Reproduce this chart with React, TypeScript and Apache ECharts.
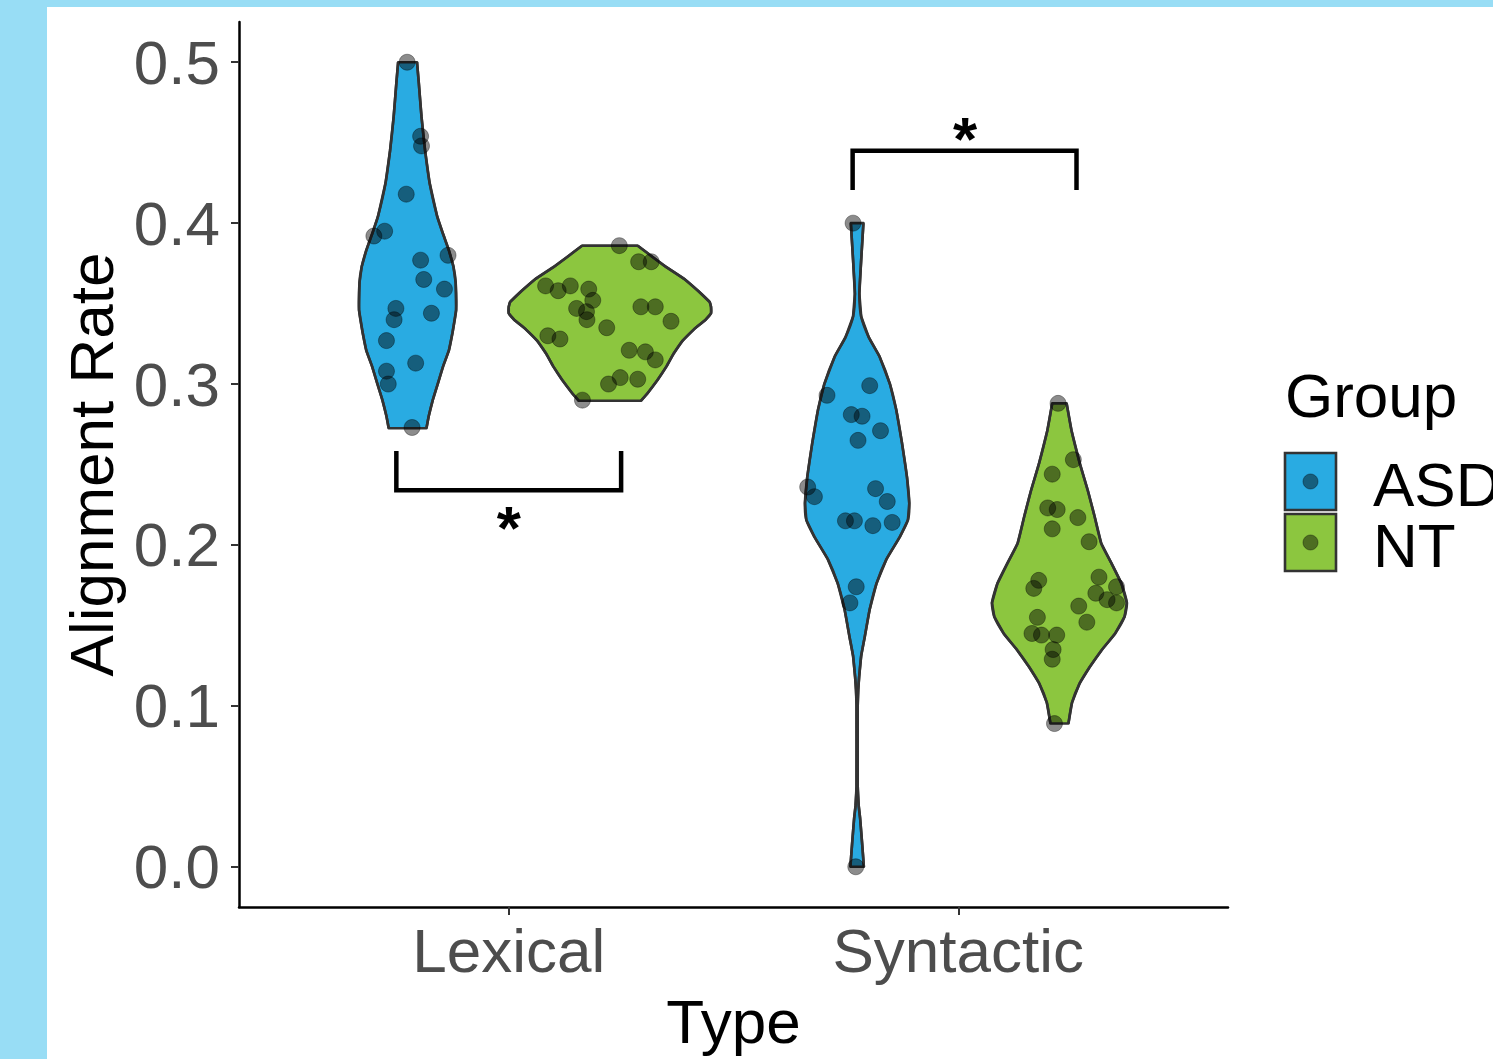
import React, { useEffect, useRef } from 'react';
import * as echarts from 'echarts';

// ---------- data ----------
const typeCategories = ['Lexical', 'Syntactic'];
const groupNames = ['ASD', 'NT'];
const yTickValues = [0, 0.1, 0.2, 0.3, 0.4, 0.5];

// violin outlines: [value, half width in category units]
const lexAsdProfile = [
  [0.5, 0.021], [0.487, 0.025], [0.466, 0.031], [0.445, 0.039], [0.425, 0.049],
  [0.404, 0.066], [0.394, 0.078], [0.383, 0.092], [0.373, 0.102], [0.363, 0.107],
  [0.346, 0.108], [0.332, 0.1], [0.321, 0.092], [0.311, 0.079], [0.3, 0.067],
  [0.29, 0.056], [0.28, 0.047], [0.2725, 0.042],
];
const lexNtProfile = [
  [0.386, 0.062], [0.379, 0.095], [0.373, 0.124], [0.365, 0.167], [0.358, 0.196],
  [0.351, 0.222], [0.348, 0.225], [0.344, 0.225], [0.34, 0.213], [0.334, 0.187],
  [0.327, 0.162], [0.319, 0.142], [0.311, 0.126], [0.3025, 0.106], [0.294, 0.083],
  [0.2896, 0.069],
];
const synAsdProfile = [
  [0.4, 0.014], [0.377, 0.009], [0.356, 0.005], [0.342, 0.009], [0.329, 0.026],
  [0.317, 0.05], [0.3, 0.073], [0.284, 0.087], [0.263, 0.1], [0.242, 0.111],
  [0.226, 0.116], [0.2155, 0.113], [0.205, 0.095], [0.191, 0.065], [0.176, 0.043],
  [0.16, 0.028], [0.143, 0.017], [0.131, 0.009], [0.118, 0.0045], [0.11, 0.0025],
  [0.1, 0.0013], [0.05, 0.0013], [0.038, 0.0035], [0.03, 0.0067], [0.015, 0.011],
  [0.0, 0.015],
];
const synNtProfile = [
  [0.288, 0.016], [0.271, 0.027], [0.251, 0.045], [0.234, 0.063], [0.218, 0.078],
  [0.201, 0.093], [0.189, 0.115], [0.176, 0.138], [0.164, 0.15], [0.1555, 0.145],
  [0.145, 0.124], [0.135, 0.095], [0.124, 0.067], [0.114, 0.045], [0.102, 0.028],
  [0.089, 0.02],
];

// individual points (value) and their horizontal jitter (category units)
const lexAsdValues = [0.5, 0.454, 0.448, 0.418, 0.395, 0.392, 0.38, 0.377, 0.365, 0.359, 0.347, 0.34, 0.344, 0.327, 0.313, 0.308, 0.3, 0.273];
const lexAsdJitter = [-0.001, 0.029, 0.031, -0.003, -0.051, -0.075, 0.09, 0.029, 0.036, 0.082, -0.026, -0.03, 0.053, -0.047, 0.018, -0.047, -0.043, 0.01];

const lexNtValues = [0.386, 0.376, 0.376, 0.361, 0.358, 0.361, 0.359, 0.352, 0.347, 0.345, 0.34, 0.348, 0.348, 0.339, 0.335, 0.33, 0.328, 0.321, 0.32, 0.315, 0.3, 0.304, 0.303, 0.29];
const lexNtJitter = [0.021, 0.064, 0.092, -0.143, -0.115, -0.088, -0.047, -0.038, -0.074, -0.052, -0.051, 0.069, 0.101, 0.136, -0.007, -0.138, -0.111, 0.043, 0.079, 0.101, -0.003, 0.023, 0.062, -0.061];

const synAsdValues = [0.4, 0.299, 0.293, 0.281, 0.28, 0.271, 0.265, 0.236, 0.23, 0.235, 0.227, 0.215, 0.215, 0.212, 0.214, 0.174, 0.164, 0.0];
const synAsdJitter = [-0.009, 0.028, -0.067, -0.013, 0.011, 0.052, 0.002, -0.11, -0.095, 0.041, 0.067, -0.026, -0.006, 0.035, 0.078, -0.002, -0.016, -0.003];

const synNtValues = [0.288, 0.253, 0.244, 0.223, 0.222, 0.217, 0.21, 0.202, 0.178, 0.173, 0.18, 0.174, 0.17, 0.166, 0.164, 0.162, 0.152, 0.155, 0.145, 0.144, 0.144, 0.135, 0.129, 0.089];
const synNtJitter = [-0.003, 0.031, -0.016, -0.026, -0.005, 0.041, -0.016, 0.066, -0.046, -0.057, 0.088, 0.127, 0.081, 0.106, 0.127, 0.043, 0.061, -0.049, -0.061, -0.04, -0.006, -0.014, -0.016, -0.011];

// significance brackets and star positions (data units)
const lexBracket = [[0.75, 0.257], [0.75, 0.234], [1.25, 0.234], [1.25, 0.257]];
const synBracket = [[1.765, 0.422], [1.765, 0.445], [2.263, 0.445], [2.263, 0.422]];
const starPositions = [[1.0, 0.217], [2.015, 0.459]];
const starLabels = ['*', '*'];

// ---------- styles ----------
const FONT = '"Liberation Sans", Arial, Helvetica, sans-serif';
const GROUP_FILLS = ['#29ABE2', '#8CC63F'];
const OUTLINE = '#333333';
const POINT_FILL = 'rgba(0,0,0,0.45)';
const POINT_EDGE = 'rgba(0,0,0,0.35)';
const DODGE = 0.225;

const violins = [
  { type: 0, group: 0, profile: lexAsdProfile, values: lexAsdValues, jitter: lexAsdJitter },
  { type: 0, group: 1, profile: lexNtProfile, values: lexNtValues, jitter: lexNtJitter },
  { type: 1, group: 0, profile: synAsdProfile, values: synAsdValues, jitter: synAsdJitter },
  { type: 1, group: 1, profile: synNtProfile, values: synNtValues, jitter: synNtJitter },
];
const centerOf = (v: { type: number; group: number }) => v.type + 1 + (v.group === 0 ? -DODGE : DODGE);

export default function App() {
  const ref = useRef<HTMLDivElement>(null);

  useEffect(() => {
    const chart = echarts.init(ref.current as HTMLDivElement, null, { renderer: 'svg' });

    const violinSeries = {
      type: 'custom',
      z: 2,
      data: violins.map((v, i) => [centerOf(v), v.profile[0][0], i]),
      encode: { x: 0, y: 1 },
      renderItem: (_params: any, api: any) => {
        const idx = api.value(2);
        const v = violins[idx];
        const c = centerOf(v);
        const left = v.profile.map(([y, w]) => api.coord([c - w, y]));
        const right = v.profile.slice().reverse().map(([y, w]) => api.coord([c + w, y]));
        return {
          type: 'group',
          children: [
            {
              type: 'polyline',
              shape: { points: left, smooth: 0.2 },
              style: { stroke: OUTLINE, lineWidth: 2.6, fill: 'none' },
              z2: 2,
            },
            {
              type: 'polyline',
              shape: { points: right, smooth: 0.2 },
              style: { stroke: OUTLINE, lineWidth: 2.6, fill: 'none' },
              z2: 2,
            },
            {
              type: 'polygon',
              shape: { points: left.concat(right) },
              style: { fill: GROUP_FILLS[v.group], stroke: OUTLINE, lineWidth: 2.6, lineJoin: 'round' },
              z2: 1,
            },
          ],
        };
      },
      silent: true,
    };

    const pointSeries = violins.map((v) => ({
      type: 'scatter',
      z: 3,
      symbol: 'circle',
      symbolSize: 16,
      itemStyle: { color: POINT_FILL, borderColor: POINT_EDGE, borderWidth: 1, opacity: 1 },
      data: v.values.map((y, k) => [centerOf(v) + v.jitter[k], y]),
      silent: true,
    }));

    const bracketSeries = [lexBracket, synBracket].map((b) => ({
      type: 'line',
      z: 4,
      data: b,
      symbol: 'none',
      lineStyle: { color: '#000', width: 4.5, cap: 'square', join: 'miter' },
      silent: true,
    }));

    const starSeries = {
      type: 'custom',
      z: 5,
      data: starPositions.map((p, i) => [p[0], p[1], i]),
      encode: { x: 0, y: 1 },
      renderItem: (_params: any, api: any) => {
        const pt = api.coord([api.value(0), api.value(1)]);
        return {
          type: 'text',
          x: pt[0],
          y: pt[1] + 10,
          style: {
            text: starLabels[api.value(2)],
            font: `bold 62px ${FONT}`,
            fill: '#000',
            align: 'center',
            verticalAlign: 'middle',
          },
        };
      },
      silent: true,
    };

    const legendKeys: any[] = [];
    groupNames.forEach((g, i) => {
      const top = 453 + i * 61;
      legendKeys.push({
        type: 'rect',
        shape: { x: 1285, y: top, width: 51, height: 57 },
        style: { fill: GROUP_FILLS[i], stroke: OUTLINE, lineWidth: 2.6 },
      });
      legendKeys.push({
        type: 'circle',
        shape: { cx: 1310.5, cy: top + 28.5, r: 7.5 },
        style: { fill: POINT_FILL, stroke: POINT_EDGE, lineWidth: 1 },
      });
      legendKeys.push({
        type: 'text',
        x: 1373,
        y: top + 31,
        style: {
          text: g,
          font: `62px ${FONT}`,
          lineHeight: 52,
          fill: '#000',
          align: 'left',
          verticalAlign: 'middle',
        },
      });
    });

    const option: any = {
      animation: false,
      backgroundColor: 'transparent',
      grid: { left: 239, top: 22, width: 989, height: 885, containLabel: false },
      xAxis: {
        type: 'value',
        min: 0.4,
        max: 2.6,
        axisLine: { show: true, onZero: false, lineStyle: { color: '#000', width: 2.5 } },
        axisTick: { show: true, customValues: [1, 2], length: 8, lineStyle: { color: OUTLINE, width: 2 } },
        axisLabel: {
          show: true,
          customValues: [1, 2],
          formatter: (v: number) => typeCategories[Math.round(v) - 1],
          fontSize: 62,
          color: '#4D4D4D',
          fontFamily: FONT,
          margin: 12,
        },
        splitLine: { show: false },
        name: 'Type',
        nameLocation: 'middle',
        nameGap: 83,
        nameTextStyle: { fontSize: 62, color: '#000', fontFamily: FONT },
      },
      yAxis: {
        type: 'value',
        min: -0.025,
        max: 0.525,
        axisLine: { show: true, onZero: false, lineStyle: { color: '#000', width: 2.5 } },
        axisTick: { show: true, customValues: yTickValues, length: 8, lineStyle: { color: OUTLINE, width: 2 } },
        axisLabel: {
          show: true,
          customValues: yTickValues,
          formatter: (v: number) => v.toFixed(1),
          fontSize: 62,
          color: '#4D4D4D',
          fontFamily: FONT,
          margin: 19,
        },
        splitLine: { show: false },
        name: 'Alignment Rate',
        nameLocation: 'middle',
        nameGap: 116,
        nameTextStyle: { fontSize: 62, color: '#000', fontFamily: FONT },
      },
      graphic: [
        {
          type: 'text',
          x: 1285,
          y: 395,
          style: { text: 'Group', font: `62px ${FONT}`, fill: '#000', align: 'left', verticalAlign: 'middle' },
        },
        ...legendKeys,
      ],
      series: [violinSeries, ...pointSeries, ...bracketSeries, starSeries],
    };

    chart.setOption(option);
    return () => chart.dispose();
  }, []);

  return (
    <div style={{ position: 'fixed', left: 0, top: 0, width: 1493, height: 1059, background: '#98DDF5', overflow: 'hidden' }}>
      <div style={{ position: 'absolute', left: 47, top: 7, right: 0, bottom: 0, background: '#ffffff' }} />
      <div ref={ref} style={{ position: 'absolute', left: 0, top: 0, width: 1493, height: 1059 }} />
    </div>
  );
}
